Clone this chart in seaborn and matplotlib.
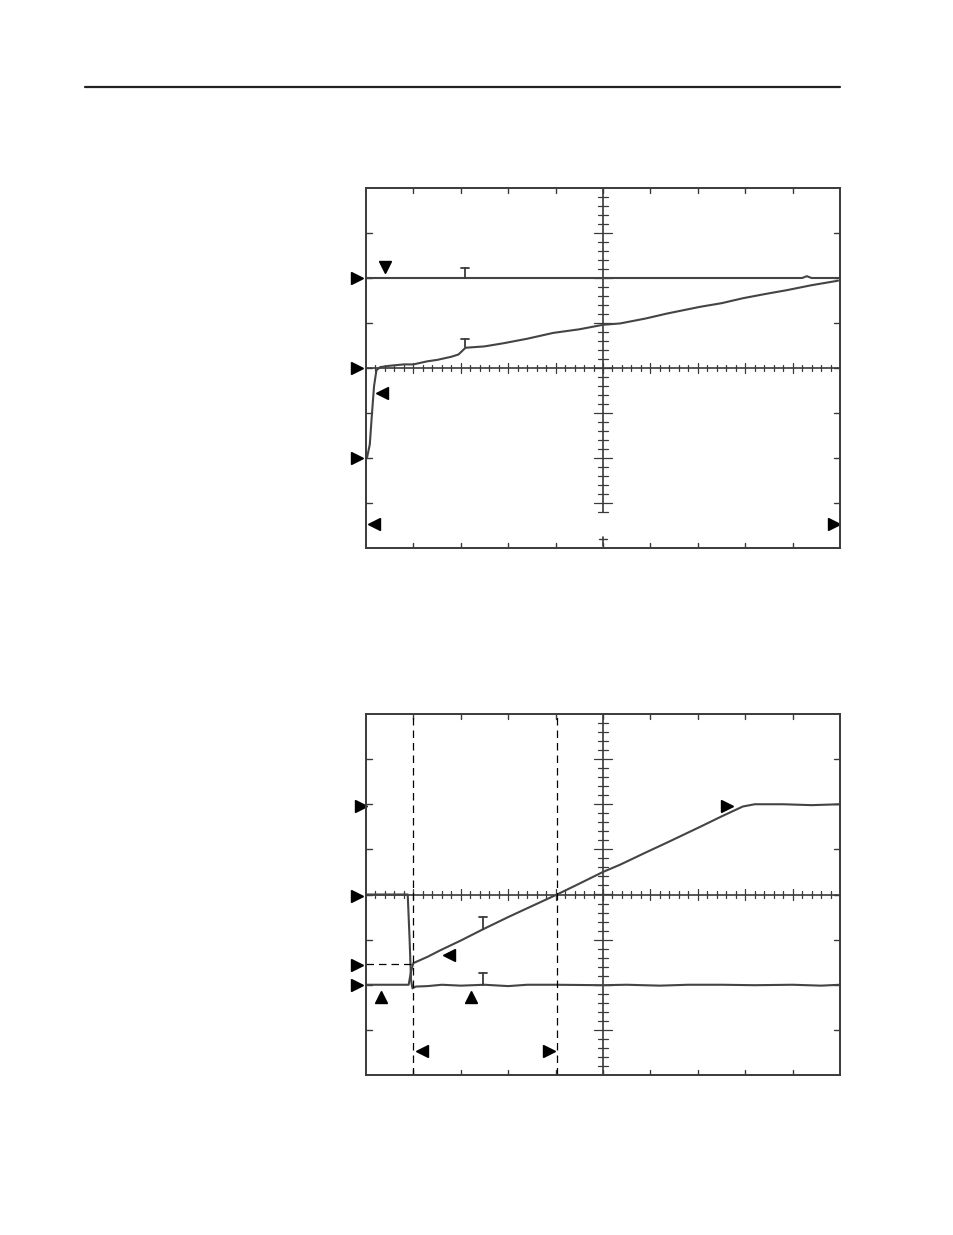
import numpy as np
import matplotlib
matplotlib.use("Agg")
import matplotlib.pyplot as plt
import seaborn as sns
from matplotlib.lines import Line2D

# -------------------------------------------------
# datos leidos de la pantalla (divisiones: x 0..10, y -4..4)
top_ch1_x = [0.0, 2.0, 4.0, 6.0, 9.2, 9.3, 9.4, 10.0]
top_ch1_y = [2.0, 2.0, 2.0, 2.0, 2.0, 2.04, 2.0, 2.0]

top_ch2_x = [0.02, 0.08, 0.12, 0.17, 0.22, 0.3, 0.5, 0.8, 1.0, 1.3, 1.5, 1.8, 1.95,
             2.1, 2.5, 2.9, 3.4, 3.95, 4.5, 5.0, 5.36, 5.9, 6.35, 7.05, 7.5, 7.95,
             8.4, 8.88, 9.4, 9.96]
top_ch2_y = [-2.0, -1.7, -1.1, -0.4, -0.05, 0.02, 0.05, 0.08, 0.08, 0.15, 0.18, 0.25,
             0.3, 0.45, 0.48, 0.55, 0.65, 0.78, 0.86, 0.96, 0.99, 1.1, 1.21, 1.36,
             1.44, 1.55, 1.64, 1.73, 1.84, 1.94]

bot_ch1_x = [0.0, 0.6, 0.88, 0.92, 0.95, 0.98, 1.05, 1.3, 1.6, 2.0, 2.5, 3.0, 3.4,
             4.0, 5.0, 5.5, 6.2, 6.8, 7.5, 8.2, 9.0, 9.6, 10.0]
bot_ch1_y = [0.0, 0.0, 0.0, -1.0, -1.9, -2.08, -2.04, -2.03, -2.0, -2.02, -2.0,
             -2.03, -2.0, -2.0, -2.01, -2.0, -2.02, -2.0, -2.0, -2.01, -2.0, -2.02, -2.0]

bot_ch2_x = [0.0, 0.5, 0.9, 0.95, 1.0, 1.3, 1.56, 2.0, 2.47, 3.0, 3.39, 4.03, 4.5,
             5.0, 5.36, 5.9, 6.35, 7.05, 7.5, 7.95, 8.2, 8.8, 9.4, 10.0]
bot_ch2_y = [-2.0, -2.0, -2.0, -1.7, -1.52, -1.38, -1.24, -1.02, -0.77, -0.5, -0.31,
             0.0, 0.24, 0.5, 0.66, 0.93, 1.15, 1.5, 1.73, 1.95, 2.0, 2.0, 1.98, 2.0]

# marcadores (tipo, x, y)
top_marks = [(">", -0.19, 2.0), (">", -0.19, 0.0), (">", -0.19, -2.0), ("v", 0.4, 2.25),
             ("<", 0.34, -0.55), ("<", 0.17, -3.47), (">", 9.87, -3.47)]
bot_marks = [(">", -0.1, 1.96), (">", -0.19, -0.03), (">", -0.19, -1.56),
             (">", -0.19, -2.0), ("^", 0.32, -2.27), ("^", 2.22, -2.27),
             ("<", 1.75, -1.34), ("<", 1.18, -3.46), (">", 3.86, -3.46),
             (">", 7.62, 1.96)]
top_cursors = [(2.09, 2.0, 2.22), (2.09, 0.47, 0.65)]
bot_cursors = [(2.47, -0.77, -0.5), (2.47, -2.0, -1.75)]

GRIS = "#3a3a3a"
TRAZO = "#444444"


def rejilla(ax, corte_vertical=False):
    ax.set_xlim(0, 10)
    ax.set_ylim(-4, 4)
    ax.set_xticks([])
    ax.set_yticks([])
    for s in ax.spines.values():
        s.set_color(GRIS)
        s.set_linewidth(1.4)
    # ejes centrales
    ax.plot([0, 10], [0, 0], color=GRIS, lw=1.2)
    if corte_vertical:
        ax.plot([5, 5], [-3.2, 4], color=GRIS, lw=1.2)
        ax.plot([5, 5], [-3.95, -3.75], color=GRIS, lw=1.2)
        ax.plot([4.92, 5.08], [-3.8, -3.8], color=GRIS, lw=1.0)
    else:
        ax.plot([5, 5], [-4, 4], color=GRIS, lw=1.2)
    # subdivisiones del eje central
    for xv in np.arange(0.2, 10, 0.2):
        h = 0.12 if abs(xv - round(xv)) < 1e-6 else 0.07
        ax.plot([xv, xv], [-h, h], color=GRIS, lw=0.9)
    ylo = -3.2 if corte_vertical else -4
    for yv in np.arange(-3.8, 4, 0.2):
        if yv < ylo:
            continue
        h = 0.2 if abs(yv - round(yv)) < 1e-6 else 0.1
        ax.plot([5 - h, 5 + h], [yv, yv], color=GRIS, lw=0.9)
    # marcas del borde
    for xv in range(1, 10):
        ax.plot([xv, xv], [4, 3.88], color=GRIS, lw=1.0)
        ax.plot([xv, xv], [-4, -3.88], color=GRIS, lw=1.0)
    for yv in range(-3, 4):
        ax.plot([0, 0.12], [yv, yv], color=GRIS, lw=1.0)
        ax.plot([10, 9.88], [yv, yv], color=GRIS, lw=1.0)


def marcas(ax, lista, cursores):
    for m, x, y in lista:
        ax.plot(x, y, marker=m, color="black", markersize=9, clip_on=False,
                linestyle="none")
    for x, y0, y1 in cursores:
        ax.plot([x, x], [y0, y1], color=GRIS, lw=1.3)
        ax.plot([x - 0.08, x + 0.08], [y1, y1], color=GRIS, lw=1.3)


sns.set_style("white")
fig = plt.figure(figsize=(9.54, 12.35), dpi=100)

# linea superior de la pagina
fig.add_artist(Line2D([85 / 954, 840 / 954], [1 - 87 / 1235, 1 - 87 / 1235],
                      color="#222222", lw=1.6))

ax1 = fig.add_axes([366 / 954, 1 - 548 / 1235, 474 / 954, 360 / 1235])
rejilla(ax1, corte_vertical=True)
sns.lineplot(x=top_ch1_x, y=top_ch1_y, ax=ax1, color=TRAZO, lw=1.5,
             estimator=None, sort=False)
sns.lineplot(x=top_ch2_x, y=top_ch2_y, ax=ax1, color=TRAZO, lw=1.5,
             estimator=None, sort=False)
marcas(ax1, top_marks, top_cursors)

ax2 = fig.add_axes([366 / 954, 1 - 1075 / 1235, 474 / 954, 361 / 1235])
rejilla(ax2)
sns.lineplot(x=bot_ch1_x, y=bot_ch1_y, ax=ax2, color=TRAZO, lw=1.5,
             estimator=None, sort=False)
sns.lineplot(x=bot_ch2_x, y=bot_ch2_y, ax=ax2, color=TRAZO, lw=1.5,
             estimator=None, sort=False)
# cursores discontinuos
for xc in [0.99, 4.03]:
    ax2.plot([xc, xc], [-4, 4], color="black", lw=0.9, ls=(0, (6, 4)))
ax2.plot([0, 0.99], [-1.53, -1.53], color="black", lw=0.9, ls=(0, (6, 4)))
marcas(ax2, bot_marks, bot_cursors)

fig.savefig("out.png", dpi=100)
plt.close(fig)
